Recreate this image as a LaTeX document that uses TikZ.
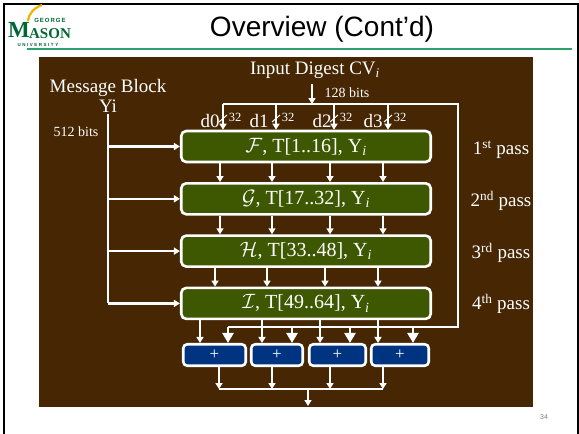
\documentclass[tikz,border=0pt]{standalone}
\usepackage{fontspec}
\setmainfont{Liberation Serif}
\newfontfamily\slidesans{Liberation Sans}
\usetikzlibrary{arrows.meta, positioning}

\definecolor{slidebrown}{RGB}{70,38,3}
\definecolor{passgreen}{RGB}{61,88,0}
\definecolor{addblue}{RGB}{0,51,128}
\definecolor{gmugreen}{RGB}{0,102,51}
\definecolor{ruleteal}{RGB}{45,160,110}
\definecolor{swoosh}{RGB}{240,180,0}

\begin{document}
\begin{tikzpicture}[x = 1pt, y = -1pt, % pixel grid, y downwards
        > = {Triangle[width = 7pt, length = 6pt]}, % arrow head style
        node distance = 52.3pt, % distance between the passes
        line width = 2.6pt % wire style
    ]

    \tikzstyle{every node}=[inner sep = 0pt]
    \tikzstyle{pass}=[draw = white, fill = passgreen, rounded corners = 5pt,
    minimum width = 249.5pt, minimum height = 31pt, text = white,
    font = \fontsize{20}{22}\selectfont]
    \tikzstyle{adder}=[draw = white, fill = addblue, rounded corners = 4pt,
    minimum height = 21.5pt, text = white, font = \fontsize{17}{20}\selectfont]
    \tikzstyle{txt}=[text = white, font = \fontsize{19}{22}\selectfont]
    \tikzstyle{bits}=[text = white, font = \fontsize{14}{16}\selectfont]
    \tikzstyle{bus}=[text = white, font = \fontsize{12.5}{14}\selectfont]
    \tikzstyle{wire}=[draw = white]
    \tikzstyle{big}=[-{Triangle[width = 11pt, length = 10pt]}]

    \useasboundingbox (0,0) rectangle (579,434);

    % slide frame, logo and title
    \draw[black, line width = 2pt] (4,434) -- (4,4) -- (577.5,4) -- (577.5,434);
    \draw[swoosh, line width = 2.2pt] (28,21) .. controls (29,13) and (34,8) .. (42,5);
    \node[text = gmugreen, font = \bfseries\fontsize{23}{23}\selectfont] (logom) at (19,30) {M};
    \node[text = gmugreen, font = \bfseries\fontsize{15}{15}\selectfont] (logoason) at (50,34) {ASON};
    \node[text = gmugreen, font = \slidesans\bfseries\fontsize{6}{6}\selectfont] (logogeorge) at (50,20) {G\,E\,O\,R\,G\,E};
    \node[text = gmugreen, font = \slidesans\bfseries\fontsize{4.5}{5}\selectfont] (logouni) at (38,45) {U\,\,N\,\,I\,\,V\,\,E\,\,R\,\,S\,\,I\,\,T\,\,Y};
    \node[font = \slidesans\fontsize{28}{32}\selectfont] (title) at (322,29) {Overview (Cont’d)};
    \draw[ruleteal, line width = 1.5pt] (27,49) -- (572,49);
    \node[text = gray, font = \slidesans\fontsize{7}{8}\selectfont] (pg) at (544,417) {34};

    \fill[slidebrown] (39,57) rectangle (533,407);

    % the four passes
    \node[pass] (p1) at (306,146.5) {$\mathcal{F}$, T[1..16], Y\textsubscript{\textit{i}}};
    \node[pass] (p2) [below of = p1] {$\mathcal{G}$, T[17..32], Y\textsubscript{\textit{i}}};
    \node[pass] (p3) [below of = p2] {$\mathcal{H}$, T[33..48], Y\textsubscript{\textit{i}}};
    \node[pass] (p4) [below of = p3] {$\mathcal{I}$, T[49..64], Y\textsubscript{\textit{i}}};

    \node[txt] (n1) at (501,150) {1\textsuperscript{st} pass};
    \node[txt] (n2) at (501,201) {2\textsuperscript{nd} pass};
    \node[txt] (n3) at (501,253) {3\textsuperscript{rd} pass};
    \node[txt] (n4) at (501,304) {4\textsuperscript{th} pass};

    % adders
    \node[adder, minimum width = 62.5pt] (a1) at (214.5,355) {+};
    \node[adder, minimum width = 51.5pt] (a2) at (277,355) {+};
    \node[adder, minimum width = 56.5pt] (a3) at (337.5,355) {+};
    \node[adder, minimum width = 57.5pt] (a4) at (400,355) {+};

    % message block
    \node[txt] (msg) at (108,88) {Message Block};
    \node[txt] (yi) at (108,106) {Yi};
    \node[bits] (b512) at (76,132) {512 bits};
    \draw[wire] (yi.south) -- (yi.south |- p4.west);
    \draw[wire,->] (yi.south |- p1.west) -- (p1.west);
    \draw[wire,->] (yi.south |- p2.west) -- (p2.west);
    \draw[wire,->] (yi.south |- p3.west) -- (p3.west);
    \draw[wire,->] (yi.south |- p4.west) -- (p4.west);

    % chaining variable
    \node[txt] (cv) at (315,70) {Input Digest CV\textsubscript{\textit{i}}};
    \node[bits] (b128) at (347,93) {128 bits};
    \coordinate (cvin) at (312,84);
    \coordinate (bl) at (223,104); \coordinate (br) at (458,104);
    \coordinate (fb) at (458,327); \coordinate (fl) at (228,327);
    \draw[wire,->] (cvin) -- (cvin |- bl);
    \draw[wire] (bl) -- (br) -- (fb) -- (fl);

    \foreach \x/\n/\l in {223/0/13, 276/1/17, 334/2/12, 388/3/15} {
        \coordinate (d\n) at (\x,104);
        \draw[wire,->] (d\n) -- (d\n |- p1.north);
        \draw[white, line width = 1pt] ([shift={(4,11)}]d\n) -- ([shift={(-4,18)}]d\n);
        \node[txt] (dl\n) at ([shift={(-\l,17)}]d\n) {d\n};
        \node[bus] (w\n) at ([shift={(12,13)}]d\n) {32};
    }

    % between the passes
    \foreach \x in {220, 272, 330, 383} {
        \draw[wire,->] (p1.south -| \x,0) -- (p2.north -| \x,0);
        \draw[wire,->] (p2.south -| \x,0) -- (p3.north -| \x,0);
    }
    \foreach \x in {215, 267, 325, 378}
        \draw[wire,->] (p3.south -| \x,0) -- (p4.north -| \x,0);

    % into the adders
    \draw[wire,->] (p4.south -| 200,0) -- (a1.north -| 200,0);
    \draw[wire,->] (p4.south -| 262,0) -- (a2.north -| 262,0);
    \draw[wire,->] (p4.south -| 320,0) -- (a3.north -| 320,0);
    \draw[wire,->] (p4.south -| 378,0) -- (a4.north -| 378,0);
    \draw[wire,big] (fl) -- (a1.north -| fl);
    \draw[wire,big] (fl -| 292,0) -- (a2.north -| 292,0);
    \draw[wire,big] (fl -| 350,0) -- (a3.north -| 350,0);
    \draw[wire,big] (fl -| 413,0) -- (a4.north -| 413,0);

    % output
    \coordinate (ol) at (219,389); \coordinate (or) at (383,389);
    \coordinate (out) at (308,406);
    \draw[wire,->] (a1.south -| ol) -- (ol);
    \draw[wire,->] (a2.south -| 272,0) -- (ol -| 272,0);
    \draw[wire,->] (a3.south -| 330,0) -- (ol -| 330,0);
    \draw[wire,->] (a4.south -| or) -- (or);
    \draw[wire] (ol) -- (or);
    \draw[wire,->] (ol -| out) -- (out);
\end{tikzpicture}
\end{document}
